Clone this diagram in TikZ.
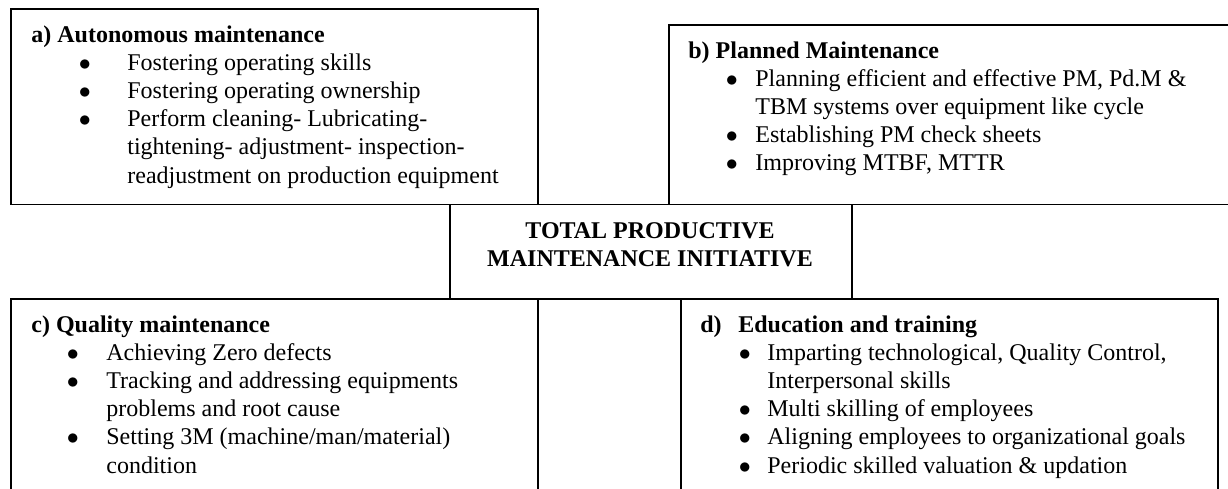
\documentclass[tikz,border=0pt]{standalone}
\usepackage{fontspec}
\setmainfont{Liberation Serif}
\tikzset{
    pillar/.style = {draw, line width=0.8pt, anchor=north west, inner sep=0pt},
    pillar text/.style = {anchor=base west, inner sep=0pt, font=\fontsize{12}{14.1}\selectfont},
}
\newcommand{\head}[1]{\multicolumn{3}{@{}l@{}}{\bfseries #1}}
\newcommand{\dotmark}{$\bullet$}
\newcommand{\pillartab}[3]{\begin{tabular}[t]{@{}p{#1}@{}p{#2}@{}l@{}}#3\end{tabular}}

\begin{document}
\begin{tikzpicture}[x=0.5pt, y=-0.5pt]
            \useasboundingbox (0,0) rectangle (1228,488);
            \clip (0,0) rectangle (1228,488);

            \node[pillar, minimum width=263.5pt, minimum height=97.75pt] (am) at (10,8) {};
            \node[pillar, minimum width=286pt, minimum height=89.75pt] (pm) at (668,24) {};
            \node[pillar, minimum width=201pt, minimum height=47.25pt] (tpm) at (449,203.5) {};
            \node[pillar, minimum width=263.5pt, minimum height=101pt] (qm) at (10,298) {};
            \node[pillar, minimum width=268.5pt, minimum height=101pt] (et) at (680,298) {};

            \node[pillar text] (am text) at (31,42) {\pillartab{23.75pt}{24.25pt}{
                \head{a) Autonomous maintenance}\\
                & \dotmark & Fostering operating skills\\
                & \dotmark & Fostering operating ownership\\
                & \dotmark & Perform cleaning- Lubricating-\\
                & & tightening- adjustment- inspection-\\
                & & readjustment on production equipment}};
            \node[pillar text] (pm text) at (688,58) {\pillartab{18.75pt}{14.75pt}{
                \head{b) Planned Maintenance}\\
                & \dotmark & Planning efficient and effective PM, Pd.M \&\\
                & & TBM systems over equipment like cycle\\
                & \dotmark & Establishing PM check sheets\\
                & \dotmark & Improving MTBF, MTTR}};
            \node[pillar text, anchor=base] (tpm text) at (650,238) {\begin{tabular}[t]{@{}c@{}}
                \bfseries TOTAL PRODUCTIVE\\
                \bfseries MAINTENANCE INITIATIVE\end{tabular}};
            \node[pillar text] (qm text) at (31,332) {\pillartab{17.75pt}{19.75pt}{
                \head{c) Quality maintenance}\\
                & \dotmark & Achieving Zero defects\\
                & \dotmark & Tracking and addressing equipments\\
                & & problems and root cause\\
                & \dotmark & Setting 3M (machine/man/material)\\
                & & condition}};
            \node[pillar text] (et text) at (700,332) {\pillartab{19.25pt}{14.25pt}{
                \head{\makebox[19pt][l]{d)}Education and training}\\
                & \dotmark & Imparting technological, Quality Control,\\
                & & Interpersonal skills\\
                & \dotmark & Multi skilling of employees\\
                & \dotmark & Aligning employees to organizational goals\\
                & \dotmark & Periodic skilled valuation \& updation}};
        \end{tikzpicture}
\end{document}
